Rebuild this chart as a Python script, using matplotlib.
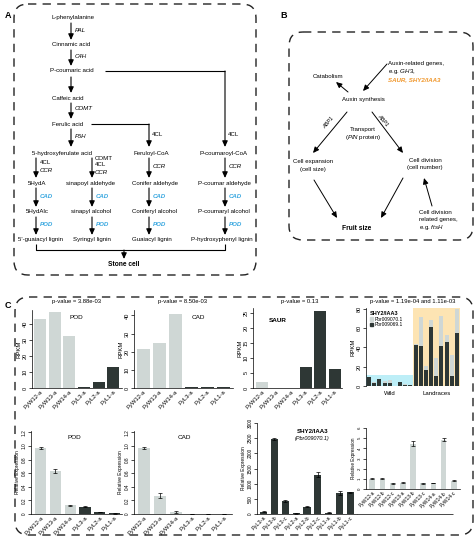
import matplotlib
matplotlib.use('Agg')
import matplotlib.pyplot as plt
from matplotlib.patches import FancyBboxPatch, Rectangle, Patch
import numpy as np

plt.rcParams['font.family'] = ['Liberation Sans', 'DejaVu Sans']
plt.rcParams['mathtext.fontset'] = 'custom'
plt.rcParams['mathtext.rm'] = 'Liberation Sans'
plt.rcParams['mathtext.it'] = 'Liberation Sans:italic'
plt.rcParams['mathtext.bf'] = 'Liberation Sans:bold'

# ---------------- data ----------------
rpkm_labels = ['PyW12-a', 'PyW13-a', 'PyW14-a', 'PyL3-a', 'PyL2-a', 'PyL1-a']
rpkm_wild = [True, True, True, False, False, False]
pod_rpkm = [43, 47.5, 32.5, 0.8, 4, 13]
cad_rpkm = [21.5, 25, 41, 0.3, 0.3, 0.3]
saur_rpkm = [2, 0, 0, 7, 25.5, 6.3]

shy_wild_069 = [9, 3, 7, 3, 3, 0, 4, 1.5, 1]
shy_wild_070 = [0, 1, 0, 2, 3, 0, 0, 1, 0]
shy_land_069 = [43, 42, 17, 61, 10, 42, 46, 10, 55]
shy_land_070 = [1, 30, 4, 8, 19, 31, 7, 22, 25]

pod_rel = [0.97, 0.63, 0.13, 0.11, 0.03, 0.01]
pod_rel_err = [0.02, 0.03, 0.006, 0.006, 0.005, 0.003]
cad_rel = [0.97, 0.27, 0.03, 0.003, 0.002, 0.002]
cad_rel_err = [0.02, 0.04, 0.01, 0.0, 0.0, 0.0]

shyq_labels = ['PyL3-a', 'PyL3-b', 'PyL3-c', 'PyL2-a', 'PyL2-b', 'PyL2-c', 'PyL1-a', 'PyL1-b', 'PyL1-c']
shyq = [70, 2470, 430, 20, 240, 1300, 40, 700, 710]
shyq_err = [15, 30, 20, 5, 15, 90, 10, 60, 20]

wrel_labels = ['PyW12-a', 'PyW12-b', 'PyW12-c', 'PyW13-a', 'PyW13-b', 'PyW13-c', 'PyW14-a', 'PyW14-b', 'PyW14-c']
wrel = [1.0, 1.0, 0.55, 0.6, 4.45, 0.55, 0.6, 4.85, 0.8]
wrel_err = [0.05, 0.05, 0.05, 0.05, 0.25, 0.03, 0.03, 0.15, 0.05]

LIGHT = '#cfd7d5'
DARK = '#2e3735'
BLUE = '#3aa8e0'
ORANGE = '#f0962a'

W, H = 477, 541
fig = plt.figure(figsize=(W / 100, H / 100), dpi=100)
ov = fig.add_axes([0, 0, 1, 1])
ov.set_xlim(0, W)
ov.set_ylim(H, 0)
ov.axis('off')


def pax(x0, y0, x1, y1):
    a = fig.add_axes([x0 / W, 1 - y1 / H, (x1 - x0) / W, (y1 - y0) / H])
    a.set_facecolor('none')
    return a


def t(x, y, s, ha='center', fs=4.4, **kw):
    ov.text(x, y, s, ha=ha, va='center', fontsize=fs, **kw)


def arr(x1, y1, x2, y2, lw=0.8):
    ov.annotate('', xy=(x2, y2), xytext=(x1, y1),
                arrowprops=dict(arrowstyle='-|>,head_length=0.35,head_width=0.16',
                                lw=lw, color='k', shrinkA=0, shrinkB=0))


def line(xs, ys, lw=0.8):
    ov.plot(xs, ys, color='k', lw=lw, solid_capstyle='butt')


def dbox(x0, y0, x1, y1, r=14):
    p = FancyBboxPatch((x0, y0), x1 - x0, y1 - y0,
                       boxstyle='round,pad=0,rounding_size=%d' % r,
                       fill=False, ec='#222222', lw=1.0, linestyle=(0, (6, 4.5)))
    ov.add_patch(p)


# ---------------- Panel A ----------------
ov.text(5, 15, 'A', fontsize=6.5, fontweight='bold', va='center')
dbox(14, 4, 256, 275)
t(73, 17, 'L-phenylalanine')
arr(71, 23, 71, 40); t(75, 30, 'PAL', ha='left', style='italic')
t(71, 44, 'Cinnamic acid')
arr(71, 50, 71, 66); t(75, 57, 'C4H', ha='left', style='italic')
t(72, 71, 'P-coumaric acid')
arr(71, 77, 71, 93)
t(68, 98, 'Caffeic acid')
arr(71, 103, 71, 119); t(75, 109, 'COMT', ha='left', style='italic')
t(68, 124, 'Ferulic acid')
arr(71, 129, 71, 147); t(75, 136, 'F5H', ha='left', style='italic')
line([91, 149], [124, 124]); arr(149, 124, 149, 147)
t(152, 134, '4CL', ha='left')
line([105, 225], [71, 71]); arr(225, 71, 225, 147)
t(228, 134, '4CL', ha='left')

cols = [36, 92, 149, 225]
t(62, 153, '5-hydroxyferulate acid'); t(151, 153, 'Feruloyl-CoA'); t(224, 153, 'P-coumaroyl-CoA')
for c in cols:
    arr(c, 158, c, 178)
t(40, 162, '4CL', ha='left'); t(40, 170, 'CCR', ha='left', style='italic')
t(95, 158, 'COMT', ha='left'); t(95, 165, '4CL', ha='left'); t(95, 172, 'CCR', ha='left', style='italic')
t(153, 167, 'CCR', ha='left', style='italic'); t(229, 167, 'CCR', ha='left', style='italic')
t(37, 183, '5HydA'); t(91, 183, 'sinapoyl aldehyde'); t(155, 183, 'Conifer aldehyde'); t(224, 183, 'P-coumar aldehyde')
for c in cols:
    arr(c, 188, c, 207)
    t(c + 4, 196, 'CAD', ha='left', color=BLUE, style='italic', fontweight='bold')
t(37, 212, '5HydAlc'); t(91, 212, 'sinapyl alcohol'); t(155, 212, 'Coniferyl alcohol'); t(224, 212, 'P-coumaryl alcohol')
for c in cols:
    arr(c, 217, c, 235)
    t(c + 4, 224, 'POD', ha='left', color=BLUE, style='italic', fontweight='bold')
t(41, 239, "5'-guaiacyl lignin"); t(92, 239, 'Syringyl lignin'); t(152, 239, 'Guaiacyl lignin'); t(222, 239, 'P-hydroxyphenyl lignin')
line([36, 36, 225, 225], [244, 250, 250, 244])
arr(124, 250, 124, 259)
t(124, 265, 'Stone cell', fontweight='bold', fs=4.8)

# ---------------- Panel B ----------------
ov.text(280, 16, 'B', fontsize=6.5, fontweight='bold', va='center')
dbox(289, 32, 473, 240)
t(388, 63, 'Auxin-related genes,', ha='left')
t(388, 71, r'e.g. $\it{GH3}$,', ha='left')
t(388, 80, 'SAUR, SHY2/IAA3', ha='left', color=ORANGE, style='italic', fontweight='bold')
t(328, 76, 'Catabolism')
t(363, 100, 'Auxin synthesis')
arr(348, 92, 336, 82, lw=0.7)
arr(387, 64, 363, 91, lw=0.7)
arr(347, 112, 313, 153, lw=0.7)
arr(372, 112, 403, 153, lw=0.7)
t(329, 123, 'ABP1', style='italic', rotation=50, fs=4)
t(383, 120, 'ABP1', style='italic', rotation=-50, fs=4)
t(363, 130, 'Transport')
t(363, 137, r'($\it{PIN}$ protein)')
t(313, 162, 'Cell expansion'); t(313, 170, '(cell size)')
t(425, 160, 'Cell division'); t(425, 168, '(cell number)')
arr(314, 180, 337, 218, lw=0.7)
arr(403, 178, 381, 218, lw=0.7)
t(357, 228, 'Fruit size', fontweight='bold', fs=4.8)
t(419, 212, 'Cell division', ha='left')
t(419, 220, 'related genes,', ha='left')
t(419, 228, r'e.g. $\it{ftsH}$', ha='left')
arr(432, 206, 424, 178, lw=0.7)

# ---------------- Panel C ----------------
ov.text(5, 305, 'C', fontsize=6.5, fontweight='bold', va='center')
dbox(15, 297, 473, 535)


def style(ax, fs=4.0, xfs=4.2):
    for s in ['top', 'right']:
        ax.spines[s].set_visible(False)
    ax.spines['left'].set_linewidth(0.5)
    ax.spines['bottom'].set_linewidth(0.5)
    ax.tick_params(axis='y', labelsize=fs, length=2, width=0.5, pad=1, labelrotation=90)
    for lab in ax.get_yticklabels():
        lab.set_va('center')
    ax.tick_params(axis='x', length=0, labelsize=xfs, pad=1)


def xlabels(ax, labels, fs=4.2):
    ax.set_xticks(range(len(labels)))
    ax.set_xticklabels(labels, rotation=45, ha='right', rotation_mode='anchor', fontsize=fs)


def bars(ax, vals, wild, width=0.82, err=None):
    cols_ = [LIGHT if w else DARK for w in wild]
    ax.bar(range(len(vals)), vals, width=width, color=cols_, edgecolor='none',
           yerr=err, error_kw=dict(lw=0.5, capsize=1.2, capthick=0.5, ecolor='k'))


# chart 1 POD RPKM
a1 = pax(32, 310, 122, 388)
bars(a1, pod_rpkm, rpkm_wild)
a1.set_xlim(-0.55, 5.6); a1.set_ylim(0, 48.5)
a1.set_yticks([0, 10, 20, 30, 40])
style(a1); xlabels(a1, rpkm_labels)
a1.set_ylabel('RPKM', fontsize=4.3, labelpad=1)
a1.text(2.0, 44, 'POD', fontsize=4.6, ha='left', va='center')
t(77, 302, 'p-value = 3.88e-03', fs=4.2)

# chart 2 CAD RPKM
a2 = pax(134, 310, 233, 388)
bars(a2, cad_rpkm, rpkm_wild)
a2.set_xlim(-0.6, 5.6); a2.set_ylim(0, 43)
a2.set_yticks([0, 10, 20, 30, 40])
style(a2); xlabels(a2, rpkm_labels)
a2.set_ylabel('RPKM', fontsize=4.3, labelpad=1)
a2.text(3.0, 39, 'CAD', fontsize=4.6, ha='left', va='center')
t(183, 302, 'p-value = 8.50e-03', fs=4.2)

# chart 3 SAUR RPKM
a3 = pax(253, 308, 342, 388)
bars(a3, saur_rpkm, rpkm_wild)
a3.set_xlim(-0.6, 5.5); a3.set_ylim(0, 26.5)
a3.set_yticks([0, 5, 10, 15, 20, 25])
style(a3); xlabels(a3, rpkm_labels)
a3.set_ylabel('RPKM', fontsize=4.3, labelpad=1)
a3.text(1.1, 22.5, 'SAUR', fontsize=4.6, ha='center', va='center', fontweight='bold')
t(300, 302, 'p-value = 0.13', fs=4.2)

# chart 4 SHY2/IAA3 stacked RPKM
a4 = pax(366, 308, 460, 386)
nw, nl = len(shy_wild_069), len(shy_land_069)
xw = np.arange(nw)
xl = np.arange(nl) + nw
a4.add_patch(Rectangle((-0.6, 0), nw + 0.1, 11.5, color='#bdeef7', lw=0, zorder=0))
a4.add_patch(Rectangle((nw - 0.5, 0), nl + 0.1, 81, color='#fde4b3', lw=0, zorder=0))
a4.bar(xw, shy_wild_069, width=0.75, color=DARK, zorder=2)
a4.bar(xw, shy_wild_070, bottom=shy_wild_069, width=0.75, color=LIGHT, zorder=2)
a4.bar(xl, shy_land_069, width=0.75, color=DARK, zorder=2)
a4.bar(xl, shy_land_070, bottom=shy_land_069, width=0.75, color=LIGHT, zorder=2)
a4.set_xlim(-0.6, nw + nl - 0.4); a4.set_ylim(0, 81)
a4.set_yticks([0, 20, 40, 60, 80])
style(a4)
a4.spines['bottom'].set_visible(False)
a4.set_xticks([])
a4.set_ylabel('RPKM', fontsize=4.3, labelpad=1)
a4.text((nw - 1) / 2, -5, 'Wild', fontsize=4.3, ha='center', va='top')
a4.text(nw + (nl - 1) / 2, -5, 'Landraces', fontsize=4.3, ha='center', va='top')
leg = a4.legend(handles=[Patch(color=LIGHT, label='Pbr009070.1'), Patch(color=DARK, label='Pbr009069.1')],
                title='SHY2/IAA3', loc='upper left', bbox_to_anchor=(0.03, 0.97), frameon=False,
                fontsize=3.5, handlelength=0.7, handleheight=0.7, handletextpad=0.3,
                borderpad=0.1, borderaxespad=0.1, labelspacing=0.1)
leg.get_title().set_fontsize(4.0)
leg.get_title().set_fontweight('bold')
leg._legend_box.align = 'left'
t(413, 302, 'p-value = 1.19e-04 and 1.11e-03', fs=4.2)

# chart 5 POD relative expression
a5 = pax(31, 431, 122, 514)
bars(a5, pod_rel, rpkm_wild, width=0.75, err=pod_rel_err)
a5.set_xlim(-0.65, 5.5); a5.set_ylim(0, 1.22)
a5.set_yticks([0, 0.2, 0.4, 0.6, 0.8, 1.0, 1.2])
a5.set_yticklabels(['0', '0.2', '0.4', '0.6', '0.8', '1.0', '1.2'])
style(a5, fs=3.4); xlabels(a5, rpkm_labels)
a5.set_ylabel('Relative Expression', fontsize=3.5, labelpad=1)
a5.text(2.3, 1.12, 'POD', fontsize=4.6, ha='center', va='center')

# chart 6 CAD relative expression
a6 = pax(134, 431, 232, 514)
bars(a6, cad_rel, rpkm_wild, width=0.75, err=cad_rel_err)
a6.set_xlim(-0.65, 5.5); a6.set_ylim(0, 1.22)
a6.set_yticks([0, 0.2, 0.4, 0.6, 0.8, 1.0, 1.2])
a6.set_yticklabels(['0', '0.2', '0.4', '0.6', '0.8', '1.0', '1.2'])
style(a6, fs=3.4); xlabels(a6, rpkm_labels)
a6.set_ylabel('Relative Expression', fontsize=3.5, labelpad=1)
a6.text(2.5, 1.12, 'CAD', fontsize=4.6, ha='center', va='center')

# chart 7 SHY2/IAA3 qPCR
a7 = pax(257, 423, 357, 514)
bars(a7, shyq, [False] * len(shyq), width=0.65, err=shyq_err)
a7.set_xlim(-0.6, 8.6); a7.set_ylim(0, 3000)
a7.set_yticks([0, 500, 1000, 1500, 2000, 2500, 3000])
style(a7, fs=3.4); xlabels(a7, shyq_labels, fs=4.0)
a7.set_ylabel('Relative Expression', fontsize=3.5, labelpad=1)
a7.text(4.5, 2720, 'SHY2/IAA3', fontsize=4.4, ha='center', va='center', fontweight='bold')
a7.text(4.5, 2480, '(Pbr009070.1)', fontsize=4.0, ha='center', va='center', style='italic')
line([357, 453], [514.3, 514.3], lw=0.5)

# chart 8 wild relative expression
a8 = pax(366, 428, 460, 489)
bars(a8, wrel, [True] * len(wrel), width=0.55, err=wrel_err)
a8.set_xlim(-0.6, 8.6); a8.set_ylim(0, 6)
a8.set_yticks([0, 1, 2, 3, 4, 5, 6])
style(a8, fs=3.2); xlabels(a8, wrel_labels, fs=3.6)
a8.set_ylabel('Relative Expression', fontsize=3.3, labelpad=1)

fig.savefig('out.png', dpi=100)
